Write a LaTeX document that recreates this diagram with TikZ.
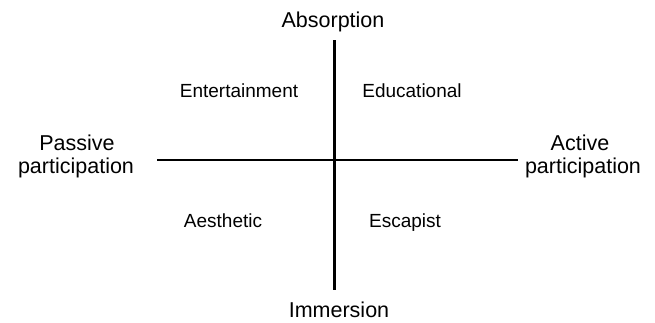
\documentclass[tikz,border=0pt]{standalone}
\usepackage{fontspec}
\setmainfont{Liberation Sans}
\begin{document}
\begin{tikzpicture}[x=1pt,y=-1pt,
  axislabel/.style={inner sep=0pt,anchor=base,font=\fontsize{21.5}{23}\selectfont,align=center},
  quadlabel/.style={inner sep=0pt,anchor=base,font=\fontsize{19}{21}\selectfont},
  axisline/.style={line width=3pt,black},
  haxisline/.style={line width=2.2pt,black}]
\useasboundingbox (0,0) rectangle (655,322);
\coordinate (top) at (334,40);
\coordinate (bot) at (334,290);
\coordinate (left) at (157,160);
\coordinate (right) at (518,160);
\draw[axisline] (top) -- (bot);
\draw[haxisline] (left) -- (right);
\node[axislabel] (abs) at (333,27) {Absorption};
\node[axislabel] (imm) at (339,317) {Immersion};
\node[axislabel] (pas1) at (77,150) {Passive};
\node[axislabel] (pas2) at (76,173) {participation};
\node[axislabel] (act1) at (580,150) {Active};
\node[axislabel] (act2) at (583,173) {participation};
\node[quadlabel] (ent) at (239,97) {Entertainment};
\node[quadlabel] (edu) at (412,97) {Educational};
\node[quadlabel] (aes) at (223,227) {Aesthetic};
\node[quadlabel] (esc) at (405,227) {Escapist};
\end{tikzpicture}
\end{document}
